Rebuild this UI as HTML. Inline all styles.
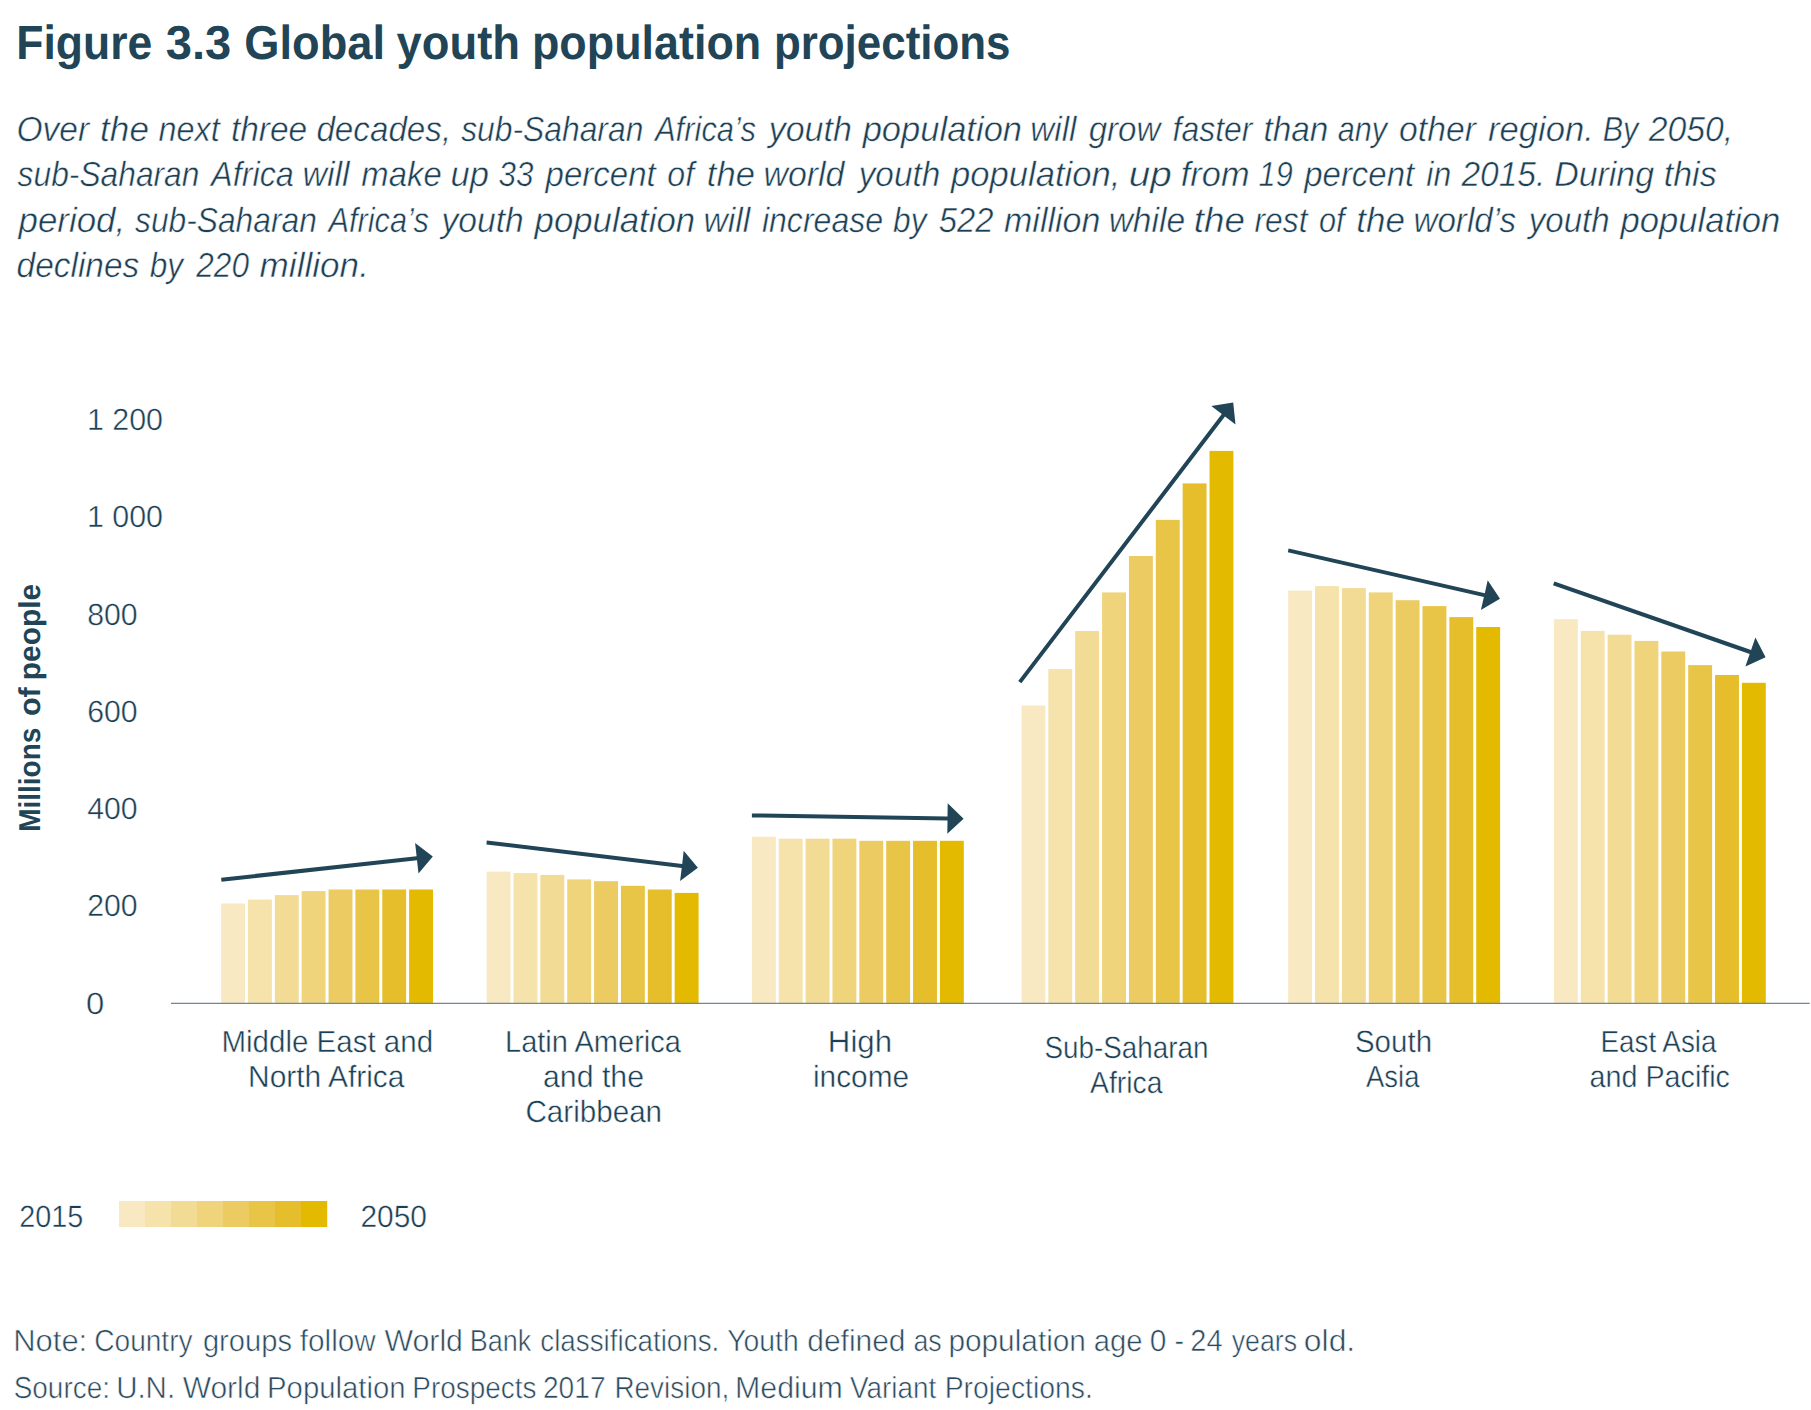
<!DOCTYPE html>
<html lang="en"><head><meta charset="utf-8"><title>Figure 3.3 Global youth population projections</title>
<style>html,body{margin:0;padding:0;background:#fff}body{width:1811px;height:1410px;overflow:hidden}svg{display:block}text{font-family:"Liberation Sans",sans-serif;text-rendering:geometricPrecision}</style></head><body>
<svg width="1811" height="1410" viewBox="0 0 1811 1410">
<rect width="1811" height="1410" fill="#fff"/>
<text y="59.00" font-size="47.8" font-weight="bold" fill="#214557"><tspan x="16.32" textLength="136.00" lengthAdjust="spacingAndGlyphs">Figure</tspan> <tspan x="165.72" textLength="65.48" lengthAdjust="spacingAndGlyphs">3.3</tspan> <tspan x="244.34" textLength="140.76" lengthAdjust="spacingAndGlyphs">Global</tspan> <tspan x="396.55" textLength="123.47" lengthAdjust="spacingAndGlyphs">youth</tspan> <tspan x="531.94" textLength="229.34" lengthAdjust="spacingAndGlyphs">population</tspan> <tspan x="773.91" textLength="236.59" lengthAdjust="spacingAndGlyphs">projections</tspan></text>
<text y="141.00" font-size="34.8" fill="#1b3f55" stroke="#fff" stroke-width="0.49" font-style="italic"><tspan x="16.48" textLength="72.59" lengthAdjust="spacingAndGlyphs">Over</tspan> <tspan x="100.11" textLength="48.80" lengthAdjust="spacingAndGlyphs">the</tspan> <tspan x="158.56" textLength="61.31" lengthAdjust="spacingAndGlyphs">next</tspan> <tspan x="230.98" textLength="76.26" lengthAdjust="spacingAndGlyphs">three</tspan> <tspan x="316.38" textLength="134.78" lengthAdjust="spacingAndGlyphs">decades,</tspan> <tspan x="461.22" textLength="182.12" lengthAdjust="spacingAndGlyphs">sub-Saharan</tspan> <tspan x="654.92" textLength="101.01" lengthAdjust="spacingAndGlyphs">Africa’s</tspan> <tspan x="768.72" textLength="83.13" lengthAdjust="spacingAndGlyphs">youth</tspan> <tspan x="862.66" textLength="159.41" lengthAdjust="spacingAndGlyphs">population</tspan> <tspan x="1030.35" textLength="46.11" lengthAdjust="spacingAndGlyphs">will</tspan> <tspan x="1088.64" textLength="71.79" lengthAdjust="spacingAndGlyphs">grow</tspan> <tspan x="1172.62" textLength="79.80" lengthAdjust="spacingAndGlyphs">faster</tspan> <tspan x="1263.49" textLength="64.93" lengthAdjust="spacingAndGlyphs">than</tspan> <tspan x="1337.71" textLength="49.38" lengthAdjust="spacingAndGlyphs">any</tspan> <tspan x="1399.00" textLength="76.87" lengthAdjust="spacingAndGlyphs">other</tspan> <tspan x="1487.92" textLength="105.92" lengthAdjust="spacingAndGlyphs">region.</tspan> <tspan x="1602.66" textLength="35.74" lengthAdjust="spacingAndGlyphs">By</tspan> <tspan x="1648.80" textLength="84.42" lengthAdjust="spacingAndGlyphs">2050,</tspan></text>
<text y="186.00" font-size="34.8" fill="#1b3f55" stroke="#fff" stroke-width="0.49" font-style="italic"><tspan x="17.62" textLength="181.82" lengthAdjust="spacingAndGlyphs">sub-Saharan</tspan> <tspan x="211.10" textLength="82.71" lengthAdjust="spacingAndGlyphs">Africa</tspan> <tspan x="302.51" textLength="47.13" lengthAdjust="spacingAndGlyphs">will</tspan> <tspan x="361.35" textLength="80.37" lengthAdjust="spacingAndGlyphs">make</tspan> <tspan x="450.55" textLength="38.36" lengthAdjust="spacingAndGlyphs">up</tspan> <tspan x="498.56" textLength="34.91" lengthAdjust="spacingAndGlyphs">33</tspan> <tspan x="545.52" textLength="110.23" lengthAdjust="spacingAndGlyphs">percent</tspan> <tspan x="667.35" textLength="26.78" lengthAdjust="spacingAndGlyphs">of</tspan> <tspan x="706.83" textLength="48.05" lengthAdjust="spacingAndGlyphs">the</tspan> <tspan x="763.41" textLength="80.99" lengthAdjust="spacingAndGlyphs">world</tspan> <tspan x="858.69" textLength="81.54" lengthAdjust="spacingAndGlyphs">youth</tspan> <tspan x="951.06" textLength="169.36" lengthAdjust="spacingAndGlyphs">population,</tspan> <tspan x="1128.78" textLength="42.97" lengthAdjust="spacingAndGlyphs">up</tspan> <tspan x="1180.84" textLength="68.65" lengthAdjust="spacingAndGlyphs">from</tspan> <tspan x="1258.61" textLength="34.06" lengthAdjust="spacingAndGlyphs">19</tspan> <tspan x="1304.22" textLength="109.94" lengthAdjust="spacingAndGlyphs">percent</tspan> <tspan x="1426.29" textLength="24.87" lengthAdjust="spacingAndGlyphs">in</tspan> <tspan x="1461.40" textLength="83.91" lengthAdjust="spacingAndGlyphs">2015.</tspan> <tspan x="1554.16" textLength="99.94" lengthAdjust="spacingAndGlyphs">During</tspan> <tspan x="1663.76" textLength="52.94" lengthAdjust="spacingAndGlyphs">this</tspan></text>
<text y="232.00" font-size="34.8" fill="#1b3f55" stroke="#fff" stroke-width="0.49" font-style="italic"><tspan x="18.57" textLength="106.58" lengthAdjust="spacingAndGlyphs">period,</tspan> <tspan x="135.02" textLength="181.82" lengthAdjust="spacingAndGlyphs">sub-Saharan</tspan> <tspan x="328.41" textLength="100.40" lengthAdjust="spacingAndGlyphs">Africa’s</tspan> <tspan x="441.50" textLength="82.24" lengthAdjust="spacingAndGlyphs">youth</tspan> <tspan x="534.57" textLength="160.61" lengthAdjust="spacingAndGlyphs">population</tspan> <tspan x="703.42" textLength="46.72" lengthAdjust="spacingAndGlyphs">will</tspan> <tspan x="761.88" textLength="121.31" lengthAdjust="spacingAndGlyphs">increase</tspan> <tspan x="893.05" textLength="33.46" lengthAdjust="spacingAndGlyphs">by</tspan> <tspan x="938.86" textLength="54.72" lengthAdjust="spacingAndGlyphs">522</tspan> <tspan x="1004.04" textLength="96.31" lengthAdjust="spacingAndGlyphs">million</tspan> <tspan x="1108.63" textLength="76.52" lengthAdjust="spacingAndGlyphs">while</tspan> <tspan x="1193.73" textLength="51.14" lengthAdjust="spacingAndGlyphs">the</tspan> <tspan x="1254.47" textLength="53.03" lengthAdjust="spacingAndGlyphs">rest</tspan> <tspan x="1319.10" textLength="25.54" lengthAdjust="spacingAndGlyphs">of</tspan> <tspan x="1356.21" textLength="48.69" lengthAdjust="spacingAndGlyphs">the</tspan> <tspan x="1413.46" textLength="102.62" lengthAdjust="spacingAndGlyphs">world’s</tspan> <tspan x="1528.77" textLength="80.84" lengthAdjust="spacingAndGlyphs">youth</tspan> <tspan x="1620.46" textLength="159.81" lengthAdjust="spacingAndGlyphs">population</tspan></text>
<text y="277.00" font-size="34.8" fill="#1b3f55" stroke="#fff" stroke-width="0.49" font-style="italic"><tspan x="16.57" textLength="122.71" lengthAdjust="spacingAndGlyphs">declines</tspan> <tspan x="149.65" textLength="33.36" lengthAdjust="spacingAndGlyphs">by</tspan> <tspan x="196.28" textLength="52.68" lengthAdjust="spacingAndGlyphs">220</tspan> <tspan x="259.62" textLength="109.29" lengthAdjust="spacingAndGlyphs">million.</tspan></text>
<text x="86.93" y="430.00" font-size="30.6" fill="#1b3f55" stroke="#fff" stroke-width="0.43" textLength="76.1" lengthAdjust="spacingAndGlyphs">1 200</text>
<text x="86.93" y="527.00" font-size="30.6" fill="#1b3f55" stroke="#fff" stroke-width="0.43" textLength="76.1" lengthAdjust="spacingAndGlyphs">1 000</text>
<text x="87.17" y="625.00" font-size="30.6" fill="#1b3f55" stroke="#fff" stroke-width="0.43" textLength="50.5" lengthAdjust="spacingAndGlyphs">800</text>
<text x="87.16" y="722.00" font-size="30.6" fill="#1b3f55" stroke="#fff" stroke-width="0.43" textLength="50.5" lengthAdjust="spacingAndGlyphs">600</text>
<text x="87.18" y="819.00" font-size="30.6" fill="#1b3f55" stroke="#fff" stroke-width="0.43" textLength="50.5" lengthAdjust="spacingAndGlyphs">400</text>
<text x="87.16" y="916.00" font-size="30.6" fill="#1b3f55" stroke="#fff" stroke-width="0.43" textLength="50.5" lengthAdjust="spacingAndGlyphs">200</text>
<text x="86.06" y="1014.00" font-size="30.6" fill="#1b3f55" stroke="#fff" stroke-width="0.43" textLength="18.3" lengthAdjust="spacingAndGlyphs">0</text>
<text x="221.47" y="1052.00" font-size="30.6" fill="#1b3f55" stroke="#fff" stroke-width="0.43" textLength="211.6" lengthAdjust="spacingAndGlyphs">Middle East and</text>
<text x="248.00" y="1087.00" font-size="30.6" fill="#1b3f55" stroke="#fff" stroke-width="0.43" textLength="156.5" lengthAdjust="spacingAndGlyphs">North Africa</text>
<text x="504.99" y="1052.00" font-size="30.6" fill="#1b3f55" stroke="#fff" stroke-width="0.43" textLength="176.0" lengthAdjust="spacingAndGlyphs">Latin America</text>
<text x="542.97" y="1087.00" font-size="30.6" fill="#1b3f55" stroke="#fff" stroke-width="0.43" textLength="101.0" lengthAdjust="spacingAndGlyphs">and the</text>
<text x="525.47" y="1122.00" font-size="30.6" fill="#1b3f55" stroke="#fff" stroke-width="0.43" textLength="136.6" lengthAdjust="spacingAndGlyphs">Caribbean</text>
<text x="827.88" y="1052.00" font-size="30.6" fill="#1b3f55" stroke="#fff" stroke-width="0.43" textLength="64.2" lengthAdjust="spacingAndGlyphs">High</text>
<text x="812.96" y="1087.00" font-size="30.6" fill="#1b3f55" stroke="#fff" stroke-width="0.43" textLength="96.1" lengthAdjust="spacingAndGlyphs">income</text>
<text x="1044.48" y="1058.00" font-size="30.6" fill="#1b3f55" stroke="#fff" stroke-width="0.43" textLength="164.0" lengthAdjust="spacingAndGlyphs">Sub-Saharan</text>
<text x="1090.01" y="1093.00" font-size="30.6" fill="#1b3f55" stroke="#fff" stroke-width="0.43" textLength="72.5" lengthAdjust="spacingAndGlyphs">Africa</text>
<text x="1354.94" y="1052.00" font-size="30.6" fill="#1b3f55" stroke="#fff" stroke-width="0.43" textLength="77.1" lengthAdjust="spacingAndGlyphs">South</text>
<text x="1366.02" y="1087.00" font-size="30.6" fill="#1b3f55" stroke="#fff" stroke-width="0.43" textLength="53.5" lengthAdjust="spacingAndGlyphs">Asia</text>
<text x="1600.48" y="1052.00" font-size="30.6" fill="#1b3f55" stroke="#fff" stroke-width="0.43" textLength="116.0" lengthAdjust="spacingAndGlyphs">East Asia</text>
<text x="1589.49" y="1087.00" font-size="30.6" fill="#1b3f55" stroke="#fff" stroke-width="0.43" textLength="140.5" lengthAdjust="spacingAndGlyphs">and Pacific</text>
<text x="19.29" y="1227.00" font-size="30.8" fill="#1b3f55" stroke="#fff" stroke-width="0.43" textLength="64.0" lengthAdjust="spacingAndGlyphs">2015</text>
<text x="360.46" y="1227.00" font-size="30.8" fill="#1b3f55" stroke="#fff" stroke-width="0.43" textLength="66.5" lengthAdjust="spacingAndGlyphs">2050</text>
<text y="0.00" font-size="30.2" font-weight="bold" fill="#214557" transform="translate(39.8 830) rotate(-90)"><tspan x="-1.87" textLength="104.22" lengthAdjust="spacingAndGlyphs">Millions</tspan> <tspan x="113.90" textLength="28.94" lengthAdjust="spacingAndGlyphs">of</tspan> <tspan x="149.83" textLength="96.29" lengthAdjust="spacingAndGlyphs">people</tspan></text>
<rect x="221.10" y="903.40" width="23.90" height="99.90" fill="#f8e9c3"/>
<rect x="247.96" y="899.60" width="23.90" height="103.70" fill="#f6e2ab"/>
<rect x="274.82" y="895.10" width="23.90" height="108.20" fill="#f2db95"/>
<rect x="301.68" y="891.10" width="23.90" height="112.20" fill="#efd47c"/>
<rect x="328.54" y="889.50" width="23.90" height="113.80" fill="#eccb62"/>
<rect x="355.40" y="889.50" width="23.90" height="113.80" fill="#e9c547"/>
<rect x="382.26" y="889.50" width="23.90" height="113.80" fill="#e6be2b"/>
<rect x="409.12" y="889.50" width="23.90" height="113.80" fill="#e3ba00"/>
<rect x="486.65" y="871.60" width="23.90" height="131.70" fill="#f8e9c3"/>
<rect x="513.51" y="873.10" width="23.90" height="130.20" fill="#f6e2ab"/>
<rect x="540.37" y="874.90" width="23.90" height="128.40" fill="#f2db95"/>
<rect x="567.23" y="879.40" width="23.90" height="123.90" fill="#efd47c"/>
<rect x="594.09" y="881.20" width="23.90" height="122.10" fill="#eccb62"/>
<rect x="620.95" y="885.80" width="23.90" height="117.50" fill="#e9c547"/>
<rect x="647.81" y="889.50" width="23.90" height="113.80" fill="#e6be2b"/>
<rect x="674.67" y="892.90" width="23.90" height="110.40" fill="#e3ba00"/>
<rect x="751.90" y="836.70" width="23.90" height="166.60" fill="#f8e9c3"/>
<rect x="778.76" y="838.70" width="23.90" height="164.60" fill="#f6e2ab"/>
<rect x="805.62" y="838.70" width="23.90" height="164.60" fill="#f2db95"/>
<rect x="832.48" y="838.70" width="23.90" height="164.60" fill="#efd47c"/>
<rect x="859.34" y="840.80" width="23.90" height="162.50" fill="#eccb62"/>
<rect x="886.20" y="840.80" width="23.90" height="162.50" fill="#e9c547"/>
<rect x="913.06" y="840.80" width="23.90" height="162.50" fill="#e6be2b"/>
<rect x="939.92" y="840.80" width="23.90" height="162.50" fill="#e3ba00"/>
<rect x="1021.50" y="705.50" width="23.90" height="297.80" fill="#f8e9c3"/>
<rect x="1048.36" y="669.10" width="23.90" height="334.20" fill="#f6e2ab"/>
<rect x="1075.22" y="631.00" width="23.90" height="372.30" fill="#f2db95"/>
<rect x="1102.08" y="592.40" width="23.90" height="410.90" fill="#efd47c"/>
<rect x="1128.94" y="556.00" width="23.90" height="447.30" fill="#eccb62"/>
<rect x="1155.80" y="519.90" width="23.90" height="483.40" fill="#e9c547"/>
<rect x="1182.66" y="483.40" width="23.90" height="519.90" fill="#e6be2b"/>
<rect x="1209.52" y="450.90" width="23.90" height="552.40" fill="#e3ba00"/>
<rect x="1288.20" y="590.60" width="23.90" height="412.70" fill="#f8e9c3"/>
<rect x="1315.06" y="586.10" width="23.90" height="417.20" fill="#f6e2ab"/>
<rect x="1341.92" y="588.10" width="23.90" height="415.20" fill="#f2db95"/>
<rect x="1368.78" y="592.40" width="23.90" height="410.90" fill="#efd47c"/>
<rect x="1395.64" y="600.20" width="23.90" height="403.10" fill="#eccb62"/>
<rect x="1422.50" y="606.10" width="23.90" height="397.20" fill="#e9c547"/>
<rect x="1449.36" y="617.10" width="23.90" height="386.20" fill="#e6be2b"/>
<rect x="1476.22" y="627.00" width="23.90" height="376.30" fill="#e3ba00"/>
<rect x="1553.90" y="619.20" width="23.90" height="384.10" fill="#f8e9c3"/>
<rect x="1580.76" y="630.90" width="23.90" height="372.40" fill="#f6e2ab"/>
<rect x="1607.62" y="634.70" width="23.90" height="368.60" fill="#f2db95"/>
<rect x="1634.48" y="640.90" width="23.90" height="362.40" fill="#efd47c"/>
<rect x="1661.34" y="651.50" width="23.90" height="351.80" fill="#eccb62"/>
<rect x="1688.20" y="665.10" width="23.90" height="338.20" fill="#e9c547"/>
<rect x="1715.06" y="675.00" width="23.90" height="328.30" fill="#e6be2b"/>
<rect x="1741.92" y="682.80" width="23.90" height="320.50" fill="#e3ba00"/>
<line x1="171" y1="1003.30" x2="1809.7" y2="1003.30" stroke="#6f8796" stroke-width="1.2"/>
<polygon points="221.5,881.7 417.0,860.2 418.5,873.4 432.8,856.5 415.1,843.1 416.6,856.3 221.1,877.7" fill="#214557"/>
<polygon points="486.4,844.4 681.7,867.9 680.1,881.0 697.9,867.8 683.7,850.8 682.2,863.9 486.8,840.4" fill="#214557"/>
<polygon points="751.9,817.4 947.5,820.5 947.3,833.7 963.6,818.8 947.7,803.3 947.5,816.5 751.9,813.4" fill="#214557"/>
<polygon points="1021.4,683.3 1225.0,416.4 1235.5,424.4 1233.2,402.4 1211.3,406.0 1221.8,414.0 1018.2,680.9" fill="#214557"/>
<polygon points="1287.8,552.2 1483.9,597.1 1480.9,609.9 1500.0,598.7 1487.7,580.3 1484.8,593.2 1288.6,548.4" fill="#214557"/>
<polygon points="1553.0,585.3 1749.7,653.9 1745.4,666.4 1765.6,657.3 1755.4,637.6 1751.1,650.1 1554.4,581.5" fill="#214557"/>
<rect x="119.00" y="1201" width="26.20" height="26" fill="#f8e9c3"/>
<rect x="145.00" y="1201" width="26.20" height="26" fill="#f6e2ab"/>
<rect x="171.00" y="1201" width="26.20" height="26" fill="#f2db95"/>
<rect x="197.00" y="1201" width="26.20" height="26" fill="#efd47c"/>
<rect x="223.00" y="1201" width="26.20" height="26" fill="#eccb62"/>
<rect x="249.00" y="1201" width="26.20" height="26" fill="#e9c547"/>
<rect x="275.00" y="1201" width="26.20" height="26" fill="#e6be2b"/>
<rect x="301.00" y="1201" width="26.20" height="26" fill="#e3ba00"/>
<text y="1351.00" font-size="30.4" fill="#2a4a5e" stroke="#fff" stroke-width="0.55"><tspan x="13.16" textLength="74.07" lengthAdjust="spacingAndGlyphs">Note:</tspan> <tspan x="94.27" textLength="98.28" lengthAdjust="spacingAndGlyphs">Country</tspan> <tspan x="202.88" textLength="89.08" lengthAdjust="spacingAndGlyphs">groups</tspan> <tspan x="299.78" textLength="76.05" lengthAdjust="spacingAndGlyphs">follow</tspan> <tspan x="384.47" textLength="78.47" lengthAdjust="spacingAndGlyphs">World</tspan> <tspan x="469.78" textLength="61.58" lengthAdjust="spacingAndGlyphs">Bank</tspan> <tspan x="540.32" textLength="179.02" lengthAdjust="spacingAndGlyphs">classifications.</tspan> <tspan x="727.20" textLength="71.48" lengthAdjust="spacingAndGlyphs">Youth</tspan> <tspan x="807.24" textLength="98.29" lengthAdjust="spacingAndGlyphs">defined</tspan> <tspan x="913.46" textLength="28.25" lengthAdjust="spacingAndGlyphs">as</tspan> <tspan x="948.38" textLength="137.56" lengthAdjust="spacingAndGlyphs">population</tspan> <tspan x="1093.66" textLength="48.74" lengthAdjust="spacingAndGlyphs">age</tspan> <tspan x="1149.63" textLength="16.64" lengthAdjust="spacingAndGlyphs">0</tspan> <tspan x="1174.53" textLength="9.55" lengthAdjust="spacingAndGlyphs">-</tspan> <tspan x="1190.34" textLength="32.31" lengthAdjust="spacingAndGlyphs">24</tspan> <tspan x="1231.73" textLength="65.43" lengthAdjust="spacingAndGlyphs">years</tspan> <tspan x="1303.86" textLength="51.35" lengthAdjust="spacingAndGlyphs">old.</tspan></text>
<text y="1398.00" font-size="30.4" fill="#2a4a5e" stroke="#fff" stroke-width="0.55"><tspan x="13.73" textLength="96.22" lengthAdjust="spacingAndGlyphs">Source:</tspan> <tspan x="116.13" textLength="58.97" lengthAdjust="spacingAndGlyphs">U.N.</tspan> <tspan x="182.67" textLength="77.75" lengthAdjust="spacingAndGlyphs">World</tspan> <tspan x="267.10" textLength="138.40" lengthAdjust="spacingAndGlyphs">Population</tspan> <tspan x="412.31" textLength="124.10" lengthAdjust="spacingAndGlyphs">Prospects</tspan> <tspan x="542.99" textLength="62.53" lengthAdjust="spacingAndGlyphs">2017</tspan> <tspan x="614.41" textLength="114.90" lengthAdjust="spacingAndGlyphs">Revision,</tspan> <tspan x="735.01" textLength="107.89" lengthAdjust="spacingAndGlyphs">Medium</tspan> <tspan x="850.08" textLength="86.12" lengthAdjust="spacingAndGlyphs">Variant</tspan> <tspan x="944.67" textLength="148.22" lengthAdjust="spacingAndGlyphs">Projections.</tspan></text>
</svg></body></html>
